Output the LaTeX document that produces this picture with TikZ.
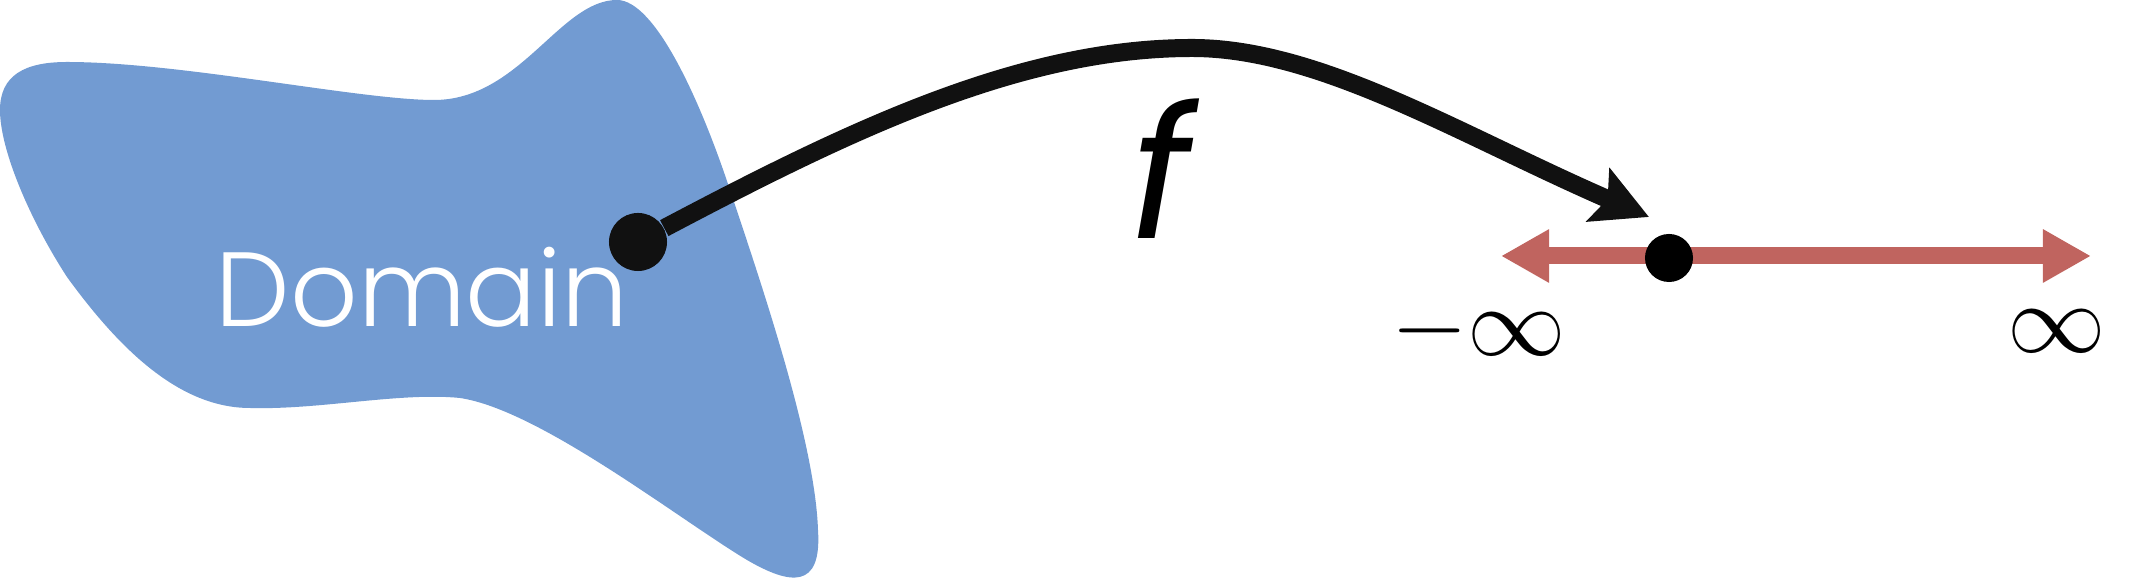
\RequirePackage{fix-cm}
\documentclass[tikz,border=0pt]{standalone}
\usepackage{fontspec}
\newfontfamily\domainfont{Poppins}[UprightFont=* Light]
\newfontfamily\mapfont{Poppins}
\usetikzlibrary{arrows.meta}
\definecolor{domainblue}{HTML}{729BD2}
\definecolor{realred}{HTML}{C0645F}
\definecolor{mapblack}{HTML}{111111}
\begin{document}
\begin{tikzpicture}
[x=0.01cm,y=-0.01cm,
  pointdecorate/.style={shape=circle,inner sep=0pt,fill=#1},%
  mapdecorate/.style={draw=mapblack,line width=0.18cm,-{Stealth[length=0.55cm,width=0.57cm,inset=0.1cm]}},%
  realdecorate/.style={draw=realred,line width=0.17cm,{Triangle[length=0.48cm,width=0.5cm]}-{Triangle[length=0.48cm,width=0.5cm]}},%
  infdecorate/.style={inner sep=0pt,font=\fontsize{28}{30}\selectfont}]
\useasboundingbox (0,0) rectangle (2144,580);
%% the domain blob
\fill[domainblue] (0,110) .. controls (0,75) and (25,62) .. (67,62)
  .. controls (180,62) and (360,100) .. (434,100)
  .. controls (520,100) and (560,0) .. (617,0)
  .. controls (655,0) and (700,100) .. (729,187)
  .. controls (760,280) and (815,440) .. (818,530)
  .. controls (822,590) and (790,585) .. (747,560)
  .. controls (680,520) and (540,410) .. (460,398)
  .. controls (400,392) and (320,410) .. (250,408)
  .. controls (180,408) and (120,350) .. (67,277)
  .. controls (30,220) and (0,150) .. cycle;
\node (domain) at (422,327) [anchor=base,inner sep=0pt,text=white,
  font=\domainfont\fontsize{30}{32}\selectfont] {Domain};
%% nodes or points
\node (src) at (638,242) [pointdecorate=mapblack,minimum size=0.58cm] {};
\coordinate (hit) at (1649,217);
\coordinate (neginf) at (1501,256);
\coordinate (posinf) at (2091,256);
%% the real line
\draw[realdecorate] (neginf) -- (posinf);
\node (tgt) at (1669,258) [pointdecorate=black,minimum size=0.48cm] {};
\node (neglabel) at (1479,331) [infdecorate] {$-\infty$};
\node (poslabel) at (2057,331) [infdecorate] {$\infty$};
%% the map
\draw[mapdecorate] (src) .. controls (850,130) and (1020,48) .. (1192,48)
  .. controls (1320,48) and (1460,135) .. (hit);
\node (f) at (1161,169) [inner sep=0pt,font=\mapfont\itshape\fontsize{52}{54}\selectfont] {f};
\end{tikzpicture}
\end{document}
